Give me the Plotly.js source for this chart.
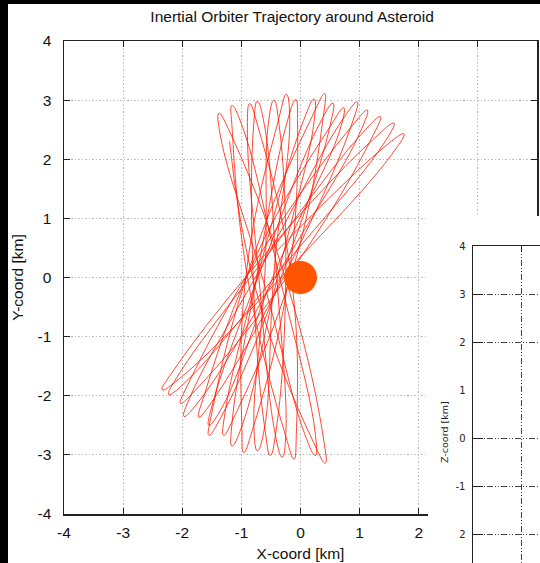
<!DOCTYPE html>
<html><head><meta charset="utf-8">
<script src="https://cdn.plot.ly/plotly-3.0.1.min.js"></script>
<style>
html,body{margin:0;padding:0;background:#000;width:540px;height:563px;overflow:hidden;}
#main{position:absolute;left:8px;top:4px;width:532px;height:559px;background:#fff;}
#zwin{position:absolute;left:428px;top:216px;width:200px;height:450px;background:#fff;}
</style></head><body>
<div id="main"></div><div id="zwin"></div>
<script>
// Waypoints of the orbiter trajectory (km): start point, then for each
// revolution: left side near centre, left side near lower tip, lower tip, right side near lower tip,
// right side near centre, right side near upper tip, upper tip, left side near upper tip; end point.
const orbitX = [-1.20,
 -0.75, 0.218, 0.42, 0.39, -0.22, -1.178, -1.38, -1.35,
 -0.62, 0.069, 0.25, 0.245, -0.35, -0.979, -1.16, -1.155,
 -0.88, -0.249, -0.11, -0.071, -0.15, -0.721, -0.86, -0.899,
 -0.70, -0.428, -0.31, -0.248, -0.40, -0.612, -0.73, -0.792,
 -0.80, -0.596, -0.51, -0.416, -0.25, -0.364, -0.45, -0.544,
 -0.60, -0.788, -0.73, -0.608, -0.45, -0.182, -0.24, -0.362,
 -0.92, -0.991, -0.96, -0.813, -0.20, -0.049, -0.08, -0.227,
 -0.72, -1.156, -1.16, -0.98, -0.38, 0.226, 0.23, 0.05,
 -0.66, -1.272, -1.30, -1.10, -0.12, 0.382, 0.41, 0.21,
 -0.85, -1.494, -1.55, -1.326, -0.30, 0.494, 0.55, 0.326,
 -0.62, -1.477, -1.55, -1.311, -0.42, 0.657, 0.73, 0.491,
 -0.74, -1.62, -1.72, -1.46, -0.18, 0.86, 0.96, 0.70,
 -0.58, -1.841, -1.97, -1.687, -0.33, 1.001, 1.13, 0.847,
 -0.68, -1.875, -2.03, -1.727, -0.10, 1.195, 1.35, 1.047,
 -0.52, -2.043, -2.23, -1.905, -0.28, 1.393, 1.58, 1.255,
 -0.60, -2.13, -2.34, -2.00, -0.20, 1.54, 1.75, 1.41,
 -0.40];
const orbitY = [2.30,
 -0.23, -2.783, -3.14, -2.731, -0.13, 2.423, 2.78, 2.371,
 -0.09, -2.642, -3.01, -2.60, -0.01, 2.542, 2.91, 2.50,
 -0.09, -2.684, -3.07, -2.662, -0.04, 2.554, 2.94, 2.532,
 -0.04, -2.647, -3.04, -2.635, -0.02, 2.587, 2.98, 2.575,
 0.00, -2.609, -3.01, -2.611, -0.01, 2.599, 3.00, 2.601,
 0.10, -2.524, -2.93, -2.538, 0.07, 2.694, 3.10, 2.708,
 0.05, -2.551, -2.96, -2.577, 0.00, 2.601, 3.01, 2.627,
 0.13, -2.44, -2.85, -2.482, 0.04, 2.61, 3.02, 2.652,
 0.27, -2.26, -2.67, -2.312, 0.17, 2.70, 3.11, 2.752,
 0.20, -2.263, -2.67, -2.327, 0.08, 2.543, 2.95, 2.607,
 0.26, -2.097, -2.50, -2.167, 0.12, 2.467, 2.87, 2.537,
 0.39, -1.963, -2.36, -2.043, 0.22, 2.573, 2.97, 2.653,
 0.33, -1.961, -2.35, -2.053, 0.15, 2.441, 2.83, 2.533,
 0.40, -1.751, -2.13, -1.853, 0.19, 2.341, 2.72, 2.443,
 0.43, -1.614, -1.98, -1.73, 0.20, 2.244, 2.61, 2.36,
 0.39, -1.547, -1.90, -1.671, 0.14, 2.077, 2.43, 2.201,
 0.45];
const asteroidX = [0];
const asteroidY = [0];
const xTicks = [-4, -3, -2, -1, 0, 1, 2, 3, 4];
const xTickText = ['-4', '-3', '-2', '-1', '0', '1', '2', '3', '4'];
const yTicks = [-4, -3, -2, -1, 0, 1, 2, 3, 4];
const yTickText = ['-4', '-3', '-2', '-1', '0', '1', '2', '3', '4'];
const zTickVals = [-2, -1, 0, 1, 2, 3, 4];
const zTickText = ['2', '-1', '0', '1', '2', '3', '4'];
const zGridVals = [-2, -1, 0, 2, 3];
const zGridX = [0];

const FONT = 'Liberation Sans, Arial, Helvetica, sans-serif';
const axisCommon = {
  range: [-4, 4], ticks: 'inside', ticklen: 6, tickwidth: 1, tickcolor: '#222',
  showline: true, linecolor: '#222', linewidth: 1.5, mirror: 'ticks',
  showgrid: true, gridcolor: '#bdbdbd', gridwidth: 1, griddash: '1.5px,2px',
  zeroline: false, tickfont: {family: FONT, size: 15.5, color: '#111'}
};

Plotly.newPlot('main', [
  {x: orbitX, y: orbitY, type: 'scatter', mode: 'lines', hoverinfo: 'skip',
   line: {color: 'rgba(255,25,0,0.8)', width: 1, shape: 'spline', smoothing: 1.3}},
  {x: asteroidX, y: asteroidY, type: 'scatter', mode: 'markers',
   marker: {size: 33, color: '#ff5500', line: {width: 0}}}
], {
  width: 532, height: 559,
  margin: {l: 56, r: 3, t: 37, b: 49},
  paper_bgcolor: '#fff', plot_bgcolor: '#fff', showlegend: false,
  font: {family: FONT, size: 15.5, color: '#111'},
  title: {text: 'Inertial Orbiter Trajectory around Asteroid', font: {family: FONT, size: 15.5, color: '#111'},
          xref: 'container', x: 0.534, xanchor: 'center', yref: 'container', y: 0.9767, yanchor: 'middle'},
  xaxis: Object.assign({}, axisCommon, {tickvals: xTicks, ticktext: xTickText, ticklabelstandoff: 4,
          title: {text: 'X-coord [km]', standoff: 8, font: {family: FONT, size: 15.5}}}),
  yaxis: Object.assign({}, axisCommon, {tickvals: yTicks, ticktext: yTickText, ticklabelstandoff: 8,
          title: {text: 'Y-coord [km]', standoff: 10, font: {family: FONT, size: 15.5}}})
}, {staticPlot: true, displayModeBar: false});

const zLine = '#222';
const zDash = '6px,2px,1px,2px,1px,2px';
Plotly.newPlot('zwin', [
  {x: [], y: [], type: 'scatter', mode: 'lines', xaxis: 'x', yaxis: 'y'},
  {x: [], y: [], type: 'scatter', mode: 'lines', xaxis: 'x', yaxis: 'y2'}
], {
  width: 200, height: 450,
  margin: {l: 45, r: 20, t: 30, b: 20},
  paper_bgcolor: '#fff', plot_bgcolor: '#fff', showlegend: false,
  xaxis: {range: [-1, 1.8125], tickvals: zGridX, showticklabels: false, ticks: 'inside', ticklen: 6,
          tickcolor: zLine, showline: true, linecolor: zLine, linewidth: 1.5, mirror: 'ticks',
          showgrid: true, gridcolor: '#444', griddash: zDash, gridwidth: 1, zeroline: false},
  yaxis: {range: [4 - 400 / 48, 4], tickvals: zTickVals, ticktext: zTickText, ticks: '',
          showline: true, linecolor: zLine, linewidth: 1.5, showgrid: false, zeroline: false,
          ticklabelstandoff: 4, tickfont: {family: 'DejaVu Sans, sans-serif', size: 10, color: '#222'}},
  yaxis2: {range: [4 - 400 / 48, 4], overlaying: 'y', tickvals: zGridVals, showticklabels: false,
           ticks: 'inside', ticklen: 10, tickcolor: zLine, showline: false,
           showgrid: true, gridcolor: '#444', griddash: zDash, gridwidth: 1, zeroline: false},
  annotations: [{text: 'Z-coord [km]', xref: 'paper', yref: 'paper', x: -0.215, y: 0.535,
                 textangle: -90, showarrow: false, xanchor: 'center', yanchor: 'middle',
                 font: {family: 'DejaVu Sans, sans-serif', size: 9.5, color: '#222'}}]
}, {staticPlot: true, displayModeBar: false});
</script>
</body></html>
